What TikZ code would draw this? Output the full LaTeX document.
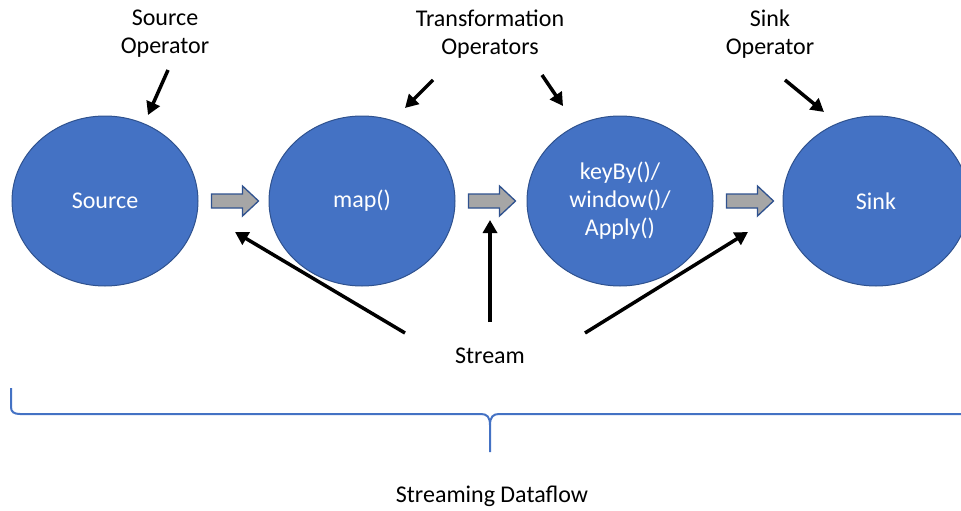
\documentclass[tikz,border=0pt]{standalone}
\usepackage{fontspec}
\setmainfont{Carlito}
\usetikzlibrary{arrows.meta,shapes.geometric}
\definecolor{opblue}{HTML}{4472C4}
\definecolor{opedge}{HTML}{2F528F}
\definecolor{flowgray}{HTML}{A6A6A6}

\tikzset{
  op/.style={ellipse, fill=opblue, draw=opedge, line width=1pt,
    minimum width=186pt, minimum height=170pt, inner sep=0pt,
    text=white, align=center, font=\fontsize{24}{28}\selectfont},
  lbl/.style={align=center, inner sep=0pt, text=black,
    font=\fontsize{24}{28}\selectfont},
  pointer/.style={line width=3.5pt, draw=black,
    -{Triangle[length=13pt,width=14pt]}},
  flow/.style={fill=flowgray, draw=opedge, line width=1.3pt, line join=miter},
  brace/.style={draw=opblue, line width=2pt},
  flowarrow/.pic={
    \draw[flow] (0,-7) -- (31,-7) -- (31,-15) -- (47,0) -- (31,15)
      -- (31,7) -- (0,7) -- cycle;
  }
}

\begin{document}
\begin{tikzpicture}[x=1pt,y=-1pt]
\useasboundingbox (0,0) rectangle (961,511);
\clip (0,0) rectangle (961,511);

% operators
\node[op] (src)  at (105,201) {Source};
\node[op] (map)  at (362,201) {map()};
\node[op] (key)  at (620,201) {keyBy()/\\window()/\\Apply()};
\node[op] (sink) at (876,201) {Sink};

% data flow between operators
\pic at ([xshift=13pt]src.east) {flowarrow};
\pic at ([xshift=13pt]map.east) {flowarrow};
\pic at ([xshift=13pt]key.east) {flowarrow};

% captions
\node[lbl] (srcop)   at (165,34) {Source\\Operator};
\node[lbl] (transop) at (490,34) {Transformation\\Operators};
\node[lbl] (sinkop)  at (770,34) {Sink\\Operator};
\node[lbl] (stream)  at (490,356) {Stream};
\node[lbl] (dataflow) at (492,496) {Streaming Dataflow};

% pointers from captions
\coordinate (p1a) at (168,70);  \coordinate (p1b) at (148,115);
\coordinate (p2a) at (433,80);  \coordinate (p2b) at (405,108);
\coordinate (p3a) at (542,75);  \coordinate (p3b) at (563,106);
\coordinate (p4a) at (785,80);  \coordinate (p4b) at (824,112);
\draw[pointer] (p1a) -- (p1b);
\draw[pointer] (p2a) -- (p2b);
\draw[pointer] (p3a) -- (p3b);
\draw[pointer] (p4a) -- (p4b);

% pointers from the stream label
\coordinate (s1a) at (405,333); \coordinate (s1b) at (235,232);
\coordinate (s2a) at (490,322); \coordinate (s2b) at (490,220);
\coordinate (s3a) at (585,333); \coordinate (s3b) at (748,232);
\draw[pointer] (s1a) -- (s1b);
\draw[pointer] (s2a) -- (s2b);
\draw[pointer] (s3a) -- (s3b);

% brace spanning the dataflow
\draw[brace] (11,388) -- (11,407) .. controls (11,412) and (14,414) .. (20,414)
  -- (481,414) .. controls (487,414) and (490,417) .. (490,425) -- (490,452);
\draw[brace] (490,425) .. controls (490,417) and (493,414) .. (499,414)
  -- (975,414);
\end{tikzpicture}
\end{document}
